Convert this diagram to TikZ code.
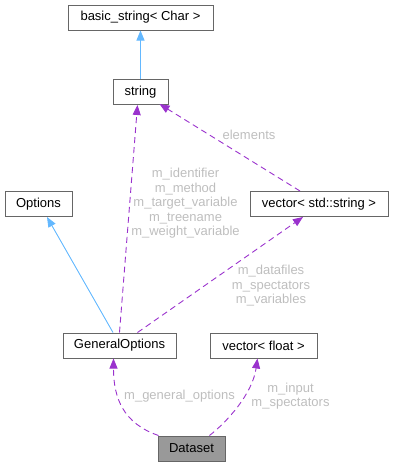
\documentclass[tikz,border=0pt]{standalone}
\usepackage{fontspec}
\setmainfont{Liberation Sans}
\usetikzlibrary{arrows.meta,calc}
\definecolor{edgep}{HTML}{9A32CD}
\definecolor{edgeb}{HTML}{63B8FF}
\definecolor{lblgray}{HTML}{BEBEBE}
\definecolor{boxgray}{HTML}{666666}
\definecolor{fillgray}{HTML}{999999}
\begin{document}
\begin{tikzpicture}[x=1pt,y=-1pt,
  cls/.style={draw=boxgray,line width=1pt,fill=white,inner sep=0pt,minimum height=25pt,font=\fontsize{13}{15}\selectfont},
  inh/.style={draw=edgeb,line width=0.9pt,-{Triangle[length=10pt,width=8pt]}},
  use/.style={draw=edgep,line width=0.9pt,dash pattern=on 6pt off 4pt,-{Triangle[length=10pt,width=8pt]}},
  lbl/.style={text=lblgray,font=\fontsize{13}{14.5}\selectfont,align=center,inner sep=0pt}]
\useasboundingbox (0,0) rectangle (395,467);
\node[cls,minimum width=145pt] (bs) at (140.5,17.5) {basic\_string< Char >};
\node[cls,minimum width=55pt] (str) at (140.5,92) {string};
\node[cls,minimum width=67pt] (opt) at (38.5,204) {Options};
\node[cls,minimum width=138pt] (vs) at (319,204) {vector< std::string >};
\node[cls,minimum width=113pt] (gen) at (119.5,345.5) {GeneralOptions};
\node[cls,minimum width=107pt] (vf) at (263.5,345.5) {vector< float >};
\node[cls,minimum width=67pt,fill=fillgray] (ds) at (191.5,448.5) {Dataset};
% inheritance
\draw[inh] (str.north) -- (bs.south);
\draw[inh] ([xshift=-6.5pt]gen.north) -- ([xshift=8.5pt]opt.south);
% usage
\draw[use] ([xshift=0pt]gen.north) -- ([xshift=-3pt]str.south);
\draw[use] ([xshift=18pt]gen.north) -- ([xshift=-16pt]vs.south);
\draw[use] ([xshift=-19pt]vs.north) -- ([xshift=19pt,yshift=1pt]str.south);
\draw[use] ([xshift=-33pt]ds.north) .. controls ++(-35,-12) and ++(0,40) .. ([xshift=-6pt]gen.south);
\draw[use] ([xshift=18pt]ds.north) .. controls ++(18,-14) and ++(-5,35) .. ([xshift=-6pt]vf.south);
% labels
\node[lbl] (l1) at (185.5,203.5) {m\_identifier\\m\_method\\m\_target\_variable\\m\_treename\\m\_weight\_variable};
\node[lbl] (l2) at (271,286) {m\_datafiles\\m\_spectators\\m\_variables};
\node[lbl] (l3) at (249,135) {elements};
\node[lbl] (l4) at (179.5,396) {m\_general\_options};
\node[lbl] (l5) at (290.5,396) {m\_input\\m\_spectators};
\end{tikzpicture}
\end{document}
